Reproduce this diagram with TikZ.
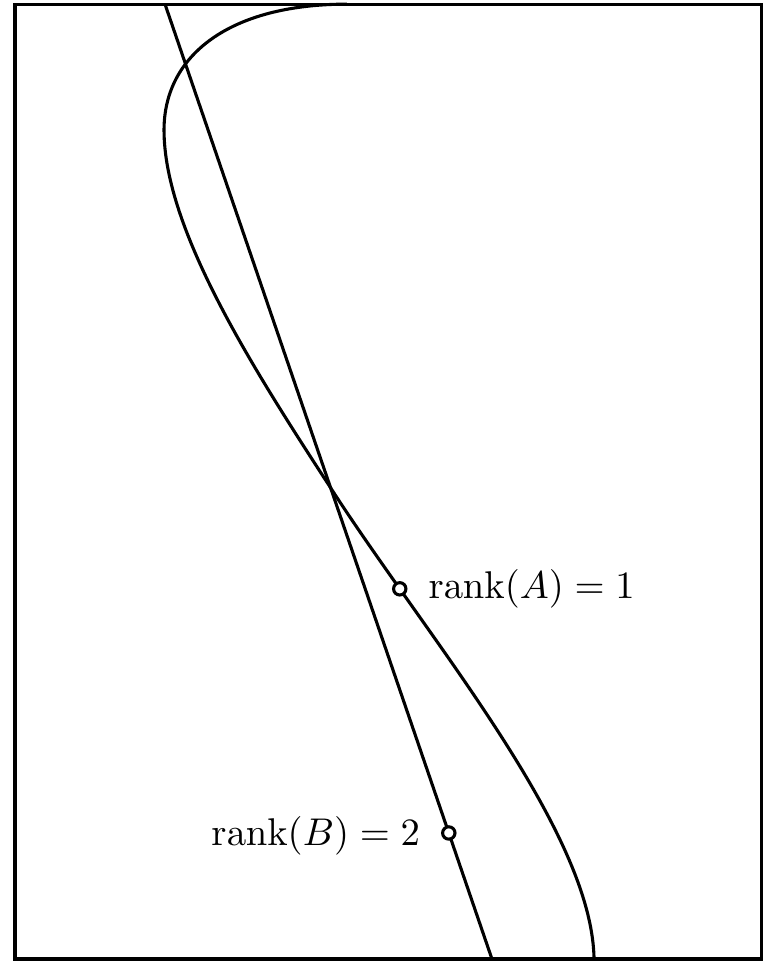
\documentclass[tikz,border=0pt]{standalone}
\usepackage{amsmath}
\usetikzlibrary{positioning}
\begin{document}
\begin{tikzpicture}[thick,
  rankpt/.style={circle,draw,fill=white,inner sep=0pt,minimum size=3.2pt}]
\useasboundingbox (-0.136,-0.018) rectangle (6.836,8.718);
\draw (0,0) rectangle (6.79,8.68);
\draw (1.364,8.68) -- coordinate[pos=0.868] (ptB) (4.336,0);
\draw (3.018,8.68) .. controls (1.955,8.68) and (1.355,8.218) .. (1.355,7.536)
  .. controls (1.355,6.627) and (2.173,5.354) .. (2.882,4.264)
  .. controls (3.764,2.9) and (5.245,1.173) .. coordinate[pos=0.21] (ptA) (5.264,0);
\node[rankpt] (cA) at (ptA) {};
\node[rankpt] (cB) at (ptB) {};
\node[right=0.6mm of cA] (labA) {$\operatorname{rank}(A) = 1$};
\node[left=0.6mm of cB,yshift=-0.3mm] (labB) {$\operatorname{rank}(B) = 2$};
\end{tikzpicture}
\end{document}
